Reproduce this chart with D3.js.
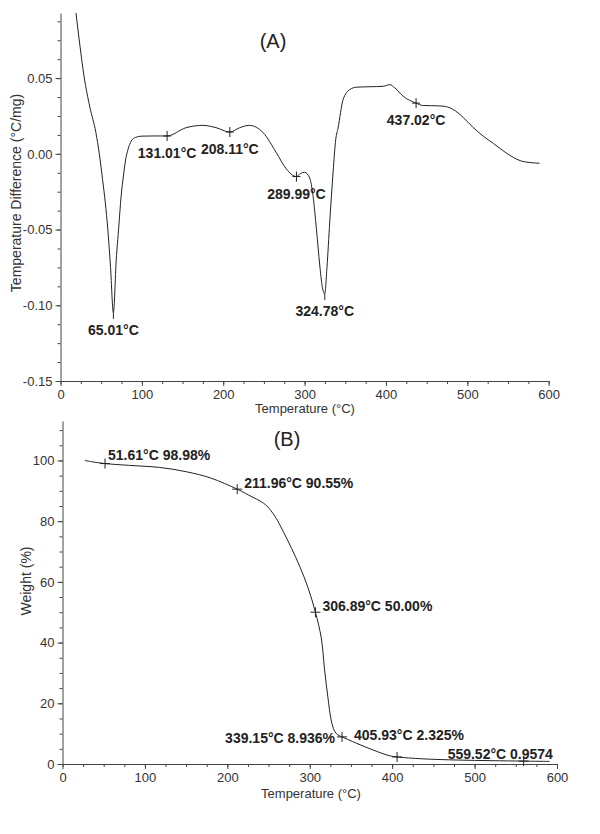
<!DOCTYPE html>
<html>
<head>
<meta charset="utf-8">
<script src="https://cdn.jsdelivr.net/npm/d3@7"></script>
<style>
  html, body { margin: 0; padding: 0; background: #fff; }
  svg { display: block; }
  text { font-family: Arial, "Liberation Sans", sans-serif; }
</style>
</head>
<body>
<svg id="chart" width="600" height="834"></svg>
<script>
// ---------- DATA: (A) DTA curve ----------
const dtaTemp = [19, 24, 29, 36, 43.5, 47.7, 51.7, 55, 58, 61.5, 65.01, 68.5, 71.5, 74.5, 77.5, 80, 83, 87, 92, 100, 115, 131.01, 154, 175, 191, 208.11, 220, 232, 249, 265, 277.6, 289.99, 295, 300, 306.3, 310.3, 314.5, 318.6, 321.5, 324.78, 327.5, 330.9, 335, 338.3, 341.1, 347.3, 355.5, 363.8, 380, 396.6, 404.8, 411, 421.2, 437.02, 445.8, 456, 470, 482, 495, 507, 520, 532, 548, 565, 578, 588.7];
const dtaValue = [0.093, 0.071, 0.051, 0.031, 0.014, 0.000, -0.017, -0.032, -0.049, -0.075, -0.105, -0.070, -0.049, -0.028, -0.014, -0.004, 0.003, 0.0085, 0.0108, 0.0117, 0.0118, 0.0118, 0.0172, 0.0188, 0.0173, 0.0144, 0.0172, 0.0188, 0.0140, 0.0010, -0.0100, -0.0150, -0.0130, -0.0122, -0.0160, -0.0275, -0.0493, -0.0734, -0.087, -0.0925, -0.075, -0.045, -0.0122, 0.0096, 0.017, 0.0358, 0.0424, 0.0440, 0.0443, 0.0446, 0.0457, 0.0435, 0.0380, 0.0335, 0.0319, 0.0318, 0.0315, 0.0295, 0.0240, 0.0175, 0.0115, 0.0069, 0.0005, -0.0045, -0.0058, -0.0062];
const dtaMarkTemp = [131.01, 208.11, 289.99, 437.02];
const dtaMarkValue = [0.0118, 0.0144, -0.0150, 0.0335];
const dtaPeakTemp = [65.01, 324.78];
const dtaPeakValue = [-0.105, -0.0925];
const dtaLabelTemp = [65.01, 131.01, 208.11, 289.99, 324.78, 437.02];
const dtaLabelValue = [-0.105, 0.0118, 0.0144, -0.0150, -0.0925, 0.0335];
const dtaLabelText = ["65.01°C", "131.01°C", "208.11°C", "289.99°C", "324.78°C", "437.02°C"];
const dtaXTicks = [0, 100, 200, 300, 400, 500, 600];
const dtaYTicks = [-0.15, -0.10, -0.05, 0.00, 0.05];

// ---------- DATA: (B) TGA curve ----------
const tgaTemp = [27, 35, 51.61, 80, 118, 150, 180, 211.96, 230, 240, 248, 258, 268, 278, 288, 298, 306.89, 314, 318, 322, 326, 330, 334, 339.15, 357, 377, 397, 405.93, 437, 480, 520, 559.52, 591];
const tgaWeight = [100, 99.6, 98.98, 98.4, 97.7, 96.3, 94.2, 90.55, 88.0, 86.6, 85.0, 81.5, 76.5, 71.0, 65.0, 58.0, 50.0, 41.5, 31.0, 22.0, 14.5, 10.9, 9.6, 8.936, 6.8, 4.6, 2.7, 2.325, 1.7, 1.3, 1.1, 0.9574, 0.85];
const tgaMarkTemp = [51.61, 211.96, 306.89, 339.15, 405.93, 559.52];
const tgaMarkWeight = [98.98, 90.55, 50.00, 8.936, 2.325, 0.9574];
const tgaLabelText = ["51.61°C 98.98%", "211.96°C 90.55%", "306.89°C 50.00%", "339.15°C 8.936%", "405.93°C 2.325%", "559.52°C 0.9574"];
const tgaXTicks = [0, 100, 200, 300, 400, 500, 600];
const tgaYTicks = [0, 20, 40, 60, 80, 100];

// ---------- LAYOUT ----------
const svg = d3.select("#chart");
const ink = "#222";
const axisCol = "#444";

function styleAxis(g, fontSize) {
  g.select(".domain").attr("stroke", axisCol).attr("stroke-width", 1);
  g.selectAll(".tick line").attr("stroke", axisCol).attr("stroke-width", 1);
  g.selectAll(".tick text").attr("fill", "#333").attr("font-size", fontSize)
    .attr("font-family", 'Arial, "Liberation Sans", sans-serif');
}

// ===== Chart A =====
const xA = d3.scaleLinear().domain([0, 600]).range([60.5, 548.7]);
const yA = d3.scaleLinear().domain([-0.15, 0.093]).range([381, 13]);

const gA = svg.append("g");
gA.append("g").attr("transform", `translate(0,${yA(-0.15)})`)
  .call(d3.axisBottom(xA).tickValues(d3.range(0, 601, 25)).tickSize(3).tickFormat(""))
  .call(g => { styleAxis(g, 13); g.select(".domain").remove(); });
gA.append("g").attr("transform", `translate(${xA(0)},0)`)
  .call(d3.axisLeft(yA).tickValues(d3.range(-0.15, 0.0901, 0.0125)).tickSize(3).tickFormat(""))
  .call(g => { styleAxis(g, 13); g.select(".domain").remove(); });
gA.append("g").attr("transform", `translate(0,${yA(-0.15)})`)
  .call(d3.axisBottom(xA).tickValues(dtaXTicks).tickSize(5).tickSizeOuter(0).tickPadding(4).tickFormat(d3.format("d")))
  .call(g => styleAxis(g, 13));
gA.append("g").attr("transform", `translate(${xA(0)},0)`)
  .call(d3.axisLeft(yA).tickValues(dtaYTicks).tickSize(5).tickSizeOuter(0).tickPadding(3).tickFormat(d => d.toFixed(2)))
  .call(g => styleAxis(g, 13));

gA.append("text").attr("x", 305).attr("y", 413).attr("text-anchor", "middle")
  .attr("font-size", 13).attr("fill", "#333").text("Temperature (°C)");
gA.append("text").attr("transform", "translate(21,193) rotate(-90)").attr("text-anchor", "middle")
  .attr("font-size", 14).attr("fill", "#333").text("Temperature Difference (°C/mg)");
gA.append("text").attr("x", 273).attr("y", 48).attr("text-anchor", "middle")
  .attr("font-size", 20).attr("fill", ink).text("(A)");

const lineA = d3.line().x(d => xA(d[0])).y(d => yA(d[1])).curve(d3.curveMonotoneX);
gA.append("path").datum(d3.zip(dtaTemp, dtaValue)).attr("d", lineA)
  .attr("fill", "none").attr("stroke", ink).attr("stroke-width", 1);

d3.zip(dtaMarkTemp, dtaMarkValue).forEach(([t, v]) => {
  const cx = xA(t), cy = yA(v);
  gA.append("path").attr("d", `M${cx},${cy - 5}V${cy + 5}M${cx - 4},${cy}H${cx + 4}`)
    .attr("stroke", ink).attr("stroke-width", 1);
});
d3.zip(dtaPeakTemp, dtaPeakValue).forEach(([t, v]) => {
  const cx = xA(t), cy = yA(v);
  gA.append("path").attr("d", `M${cx},${cy}V${cy + 6}`).attr("stroke", ink).attr("stroke-width", 1);
});
dtaLabelText.forEach((txt, i) => {
  gA.append("text").attr("x", xA(dtaLabelTemp[i])).attr("y", yA(dtaLabelValue[i]) + 22)
    .attr("text-anchor", "middle").attr("font-size", 14).attr("font-weight", "bold")
    .attr("fill", ink).text(txt);
});

// ===== Chart B =====
const xB = d3.scaleLinear().domain([0, 600]).range([62.5, 557]);
const yB = d3.scaleLinear().domain([0, 113]).range([764, 421]);
const gB = svg.append("g");

gB.append("g").attr("transform", `translate(0,${yB(0)})`)
  .call(d3.axisBottom(xB).tickValues(d3.range(0, 601, 25)).tickSize(3).tickFormat(""))
  .call(g => { styleAxis(g, 13); g.select(".domain").remove(); });
gB.append("g").attr("transform", `translate(${xB(0)},0)`)
  .call(d3.axisLeft(yB).tickValues(d3.range(0, 111, 5)).tickSize(3).tickFormat(""))
  .call(g => { styleAxis(g, 13); g.select(".domain").remove(); });
gB.append("g").attr("transform", `translate(0,${yB(0)})`)
  .call(d3.axisBottom(xB).tickValues(tgaXTicks).tickSize(5).tickSizeOuter(0).tickPadding(4).tickFormat(d3.format("d")))
  .call(g => styleAxis(g, 13));
gB.append("g").attr("transform", `translate(${xB(0)},0)`)
  .call(d3.axisLeft(yB).tickValues(tgaYTicks).tickSize(5).tickSizeOuter(0).tickPadding(3).tickFormat(d3.format("d")))
  .call(g => styleAxis(g, 13));

gB.append("text").attr("x", 311).attr("y", 798).attr("text-anchor", "middle")
  .attr("font-size", 13).attr("fill", "#333").text("Temperature (°C)");
gB.append("text").attr("transform", "translate(31,581) rotate(-90)").attr("text-anchor", "middle")
  .attr("font-size", 14).attr("fill", "#333").text("Weight (%)");
gB.append("text").attr("x", 287).attr("y", 446).attr("text-anchor", "middle")
  .attr("font-size", 20).attr("fill", ink).text("(B)");

const lineB = d3.line().x(d => xB(d[0])).y(d => yB(d[1])).curve(d3.curveCatmullRom.alpha(0.5));
gB.append("path").datum(d3.zip(tgaTemp, tgaWeight)).attr("d", lineB)
  .attr("fill", "none").attr("stroke", ink).attr("stroke-width", 1);

// label offsets relative to each marker (layout only)
const tgaLabelDx = [3, 7, 7, -7, -43, -76];
const tgaLabelDy = [-4, -1, -1, 6, -17, -2];
const tgaLabelAnchor = ["start", "start", "start", "end", "start", "start"];
d3.zip(tgaMarkTemp, tgaMarkWeight).forEach(([t, w], i) => {
  const cx = xB(t), cy = yB(w);
  gB.append("path").attr("d", `M${cx},${cy - 5}V${cy + 5}M${cx - 5},${cy}H${cx + 5}`)
    .attr("stroke", ink).attr("stroke-width", 1);
  gB.append("text").attr("x", cx + tgaLabelDx[i]).attr("y", cy + tgaLabelDy[i])
    .attr("text-anchor", tgaLabelAnchor[i]).attr("font-size", 14).attr("font-weight", "bold")
    .attr("fill", ink).text(tgaLabelText[i]);
});
</script>
</body>
</html>
